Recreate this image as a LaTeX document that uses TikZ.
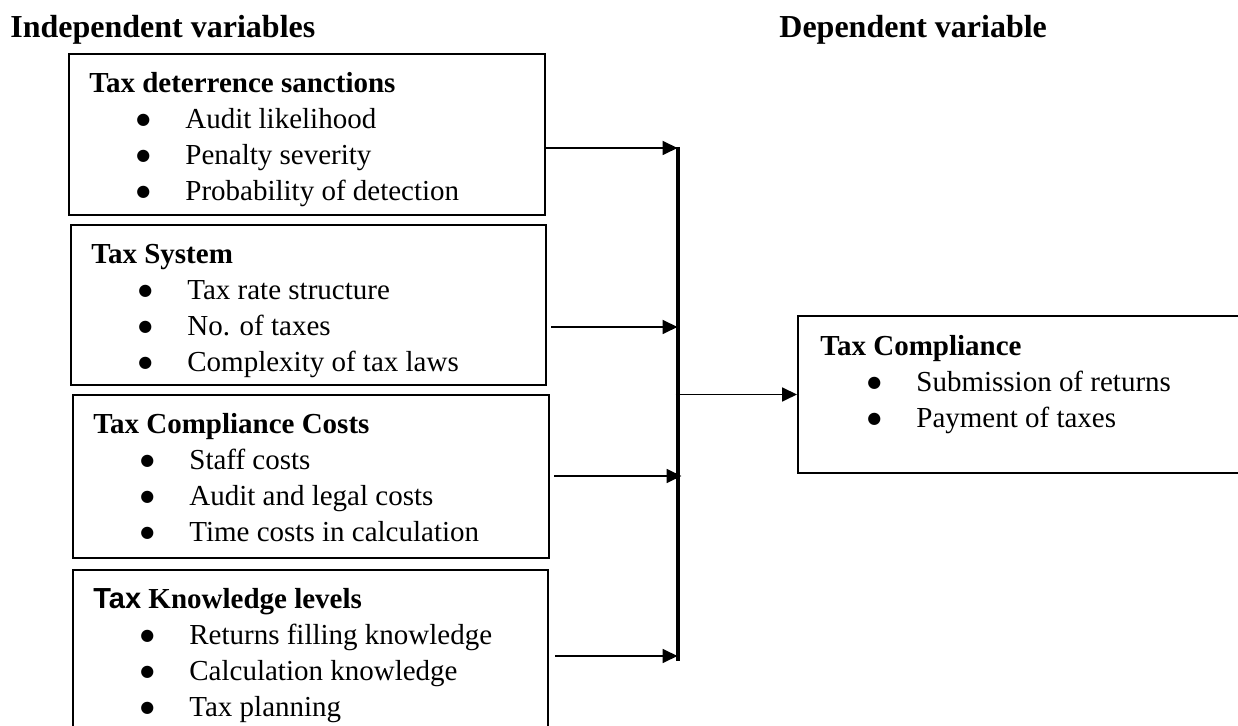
\documentclass[tikz,border=0pt]{standalone}
\usepackage{fontspec}
\setmainfont{Liberation Serif}
\newfontfamily\arialfont{Liberation Sans}
\newfontfamily\symfont{DejaVu Sans}
\usetikzlibrary{arrows.meta,positioning}

% one bulleted line inside a box
\newcommand{\itm}[1]{\\\hspace*{22pt}\makebox[10pt]{\symfont\fontsize{8}{10}\selectfont
  \raisebox{2pt}{●}}\hspace{16pt}#1}

\begin{document}
\begin{tikzpicture}[
    x=0.5pt, y=-0.5pt,
    varbox/.style={draw, line width=1pt, anchor=north west, inner sep=0pt},
    list/.style={anchor=north west, inner sep=0pt, align=left,
                 font=\fontsize{14.5}{18}\selectfont},
    head/.style={anchor=base west, inner sep=0pt,
                 font=\bfseries\fontsize{16}{19}\selectfont},
    flow/.style={-{Triangle[length=7.5pt, width=7pt]}, line width=0.9pt},
    bar/.style={line width=2pt},
  ]
    \useasboundingbox (0,0) rectangle (1238,726);
    \clip (0,0) rectangle (1238,726);

    % Headings
    \node[head] (indep) at (10,37.5)  {Independent variables};
    \node[head] (dep)   at (779,37.5) {Dependent variable};

    % Independent variables
    \node[varbox, minimum width=238pt, minimum height=80.5pt] (sanc) at (68,53) {};
    \node[varbox, minimum width=237.5pt, minimum height=80pt] (system) at (70,224) {};
    \node[varbox, minimum width=238pt, minimum height=81.5pt] (costs) at (72,394) {};
    \node[varbox, minimum width=237.5pt, minimum height=90pt] (know) at (72,569) {};

    \node[list, below right=6.9pt and 10.5pt of sanc.north west] (sanctxt)
      {\strut\textbf{Tax deterrence sanctions}\itm{Audit likelihood}%
       \itm{Penalty severity}\itm{Probability of detection}};
    \node[list, below right=6.9pt and 10.5pt of system.north west] (systemtxt)
      {\strut\textbf{Tax System}\itm{Tax rate structure}%
       \itm{No. of taxes}\itm{Complexity of tax laws}};
    \node[list, below right=6.9pt and 10.5pt of costs.north west] (coststxt)
      {\strut\textbf{Tax Compliance Costs}\itm{Staff costs}%
       \itm{Audit and legal costs}\itm{Time costs in calculation}};
    \node[list, below right=6.9pt and 10.5pt of know.north west] (knowtxt)
      {\strut\textbf{{\arialfont Tax} Knowledge levels}\itm{Returns filling knowledge}%
       \itm{Calculation knowledge}\itm{Tax planning}};

    % Dependent variable
    \node[varbox, minimum width=240pt, minimum height=78.5pt] (comp) at (797,315) {};
    \node[list, below right=7.4pt and 11.5pt of comp.north west] (comptxt)
      {\strut\textbf{Tax Compliance}\itm{Submission of returns}\itm{Payment of taxes}};

    % Collecting bar
    \coordinate (bartop) at (677.5,147);
    \coordinate (barbot) at (677.5,661);
    \draw[bar] (bartop) -- (barbot);

    % Arrows
    \draw[flow] (sanc.east |- 0,148) -- (bartop |- 0,148);
    \draw[flow] (system.east |- 0,327) ++(2pt,0) -- (bartop |- 0,327);
    \draw[flow] (costs.east |- 0,476) ++(2pt,0) -- ([xshift=2pt]bartop |- 0,476);
    \draw[flow] (know.east |- 0,656) ++(3pt,0) -- (bartop |- 0,656);
    \draw[flow] (bartop |- comp.west) ++(-1pt,0) -- (comp.west);
\end{tikzpicture}
\end{document}
